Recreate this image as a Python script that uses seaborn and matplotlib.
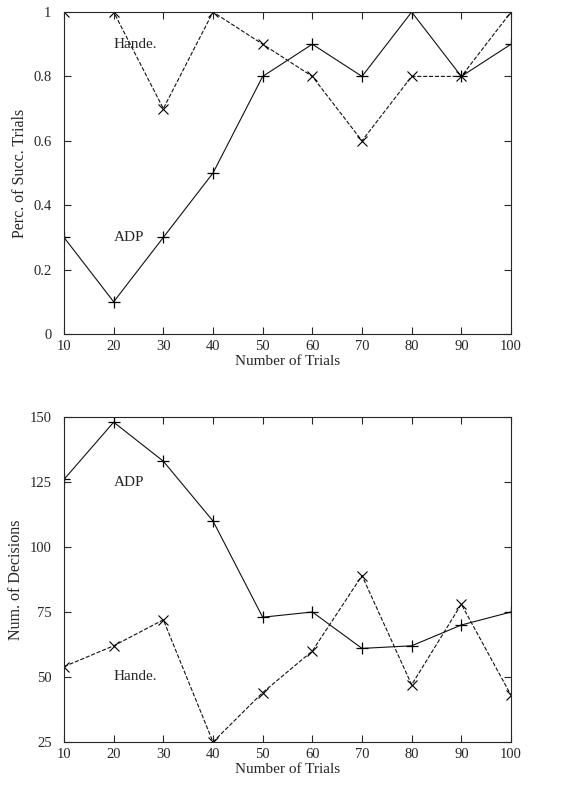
import pandas as pd
import seaborn as sns
import matplotlib.pyplot as plt

trials = [10, 20, 30, 40, 50, 60, 70, 80, 90, 100]

# Percentage of successful trials
succ_adp = [0.3, 0.1, 0.3, 0.5, 0.8, 0.9, 0.8, 1.0, 0.8, 0.9]
succ_hande = [1.0, 1.0, 0.7, 1.0, 0.9, 0.8, 0.6, 0.8, 0.8, 1.0]

# Number of decisions
dec_adp = [126, 148, 133, 110, 73, 75, 61, 62, 70, 75]
dec_hande = [54, 62, 72, 25, 44, 60, 89, 47, 78, 43]

sns.set_style('ticks')
plt.rcParams['font.family'] = ['Liberation Serif', 'DejaVu Serif']
plt.rcParams['font.size'] = 10.5

fig = plt.figure(figsize=(5.66, 7.93), dpi=100)
W, H = 566, 793
ax1 = fig.add_axes([64 / W, 1 - 334 / H, 447 / W, 322 / H])
ax2 = fig.add_axes([64 / W, 1 - 742 / H, 447 / W, 325 / H])


def draw(ax, adp, hande):
    df = pd.DataFrame({
        'trials': trials * 2,
        'value': adp + hande,
        'method': ['ADP'] * len(trials) + ['Hande.'] * len(trials),
    })
    sns.lineplot(data=df[df.method == 'ADP'], x='trials', y='value', ax=ax,
                 color='#111111', lw=0.8, marker='+', markersize=9,
                 markeredgewidth=0.9, markeredgecolor='black', legend=False)
    sns.lineplot(data=df[df.method == 'Hande.'], x='trials', y='value', ax=ax,
                 color='#111111', lw=0.8, marker='x', markersize=7,
                 markeredgewidth=0.8, markeredgecolor='black',
                 linestyle='--', dashes=(5, 2.5), legend=False)
    ax.set_xlim(10, 100)
    ax.set_xticks(trials)
    ax.tick_params(direction='in', top=True, right=True, length=5, width=0.8,
                   labelsize=10.5)
    ax.tick_params(axis='x', pad=4)
    ax.tick_params(axis='y', pad=9)
    for s in ax.spines.values():
        s.set_linewidth(0.8)
    ax.set_xlabel('Number of Trials', fontsize=11, labelpad=2)


draw(ax1, succ_adp, succ_hande)
ax1.set_ylim(0, 1)
ax1.set_yticks([0, 0.2, 0.4, 0.6, 0.8, 1])
ax1.set_yticklabels(['0', '0.2', '0.4', '0.6', '0.8', '1'])
ax1.set_ylabel('Perc. of Succ. Trials', fontsize=11.5, labelpad=4)
ax1.text(20, 0.9, 'Hande.', ha='left', va='center', fontsize=11)
ax1.text(20, 0.3, 'ADP', ha='left', va='center', fontsize=11)

draw(ax2, dec_adp, dec_hande)
ax2.set_ylim(25, 150)
ax2.set_yticks([25, 50, 75, 100, 125, 150])
ax2.set_ylabel('Num. of Decisions', fontsize=11.5, labelpad=4)
ax2.text(20, 125, 'ADP', ha='left', va='center', fontsize=11)
ax2.text(20, 50, 'Hande.', ha='left', va='center', fontsize=11)

plt.savefig('out.png', dpi=100)
